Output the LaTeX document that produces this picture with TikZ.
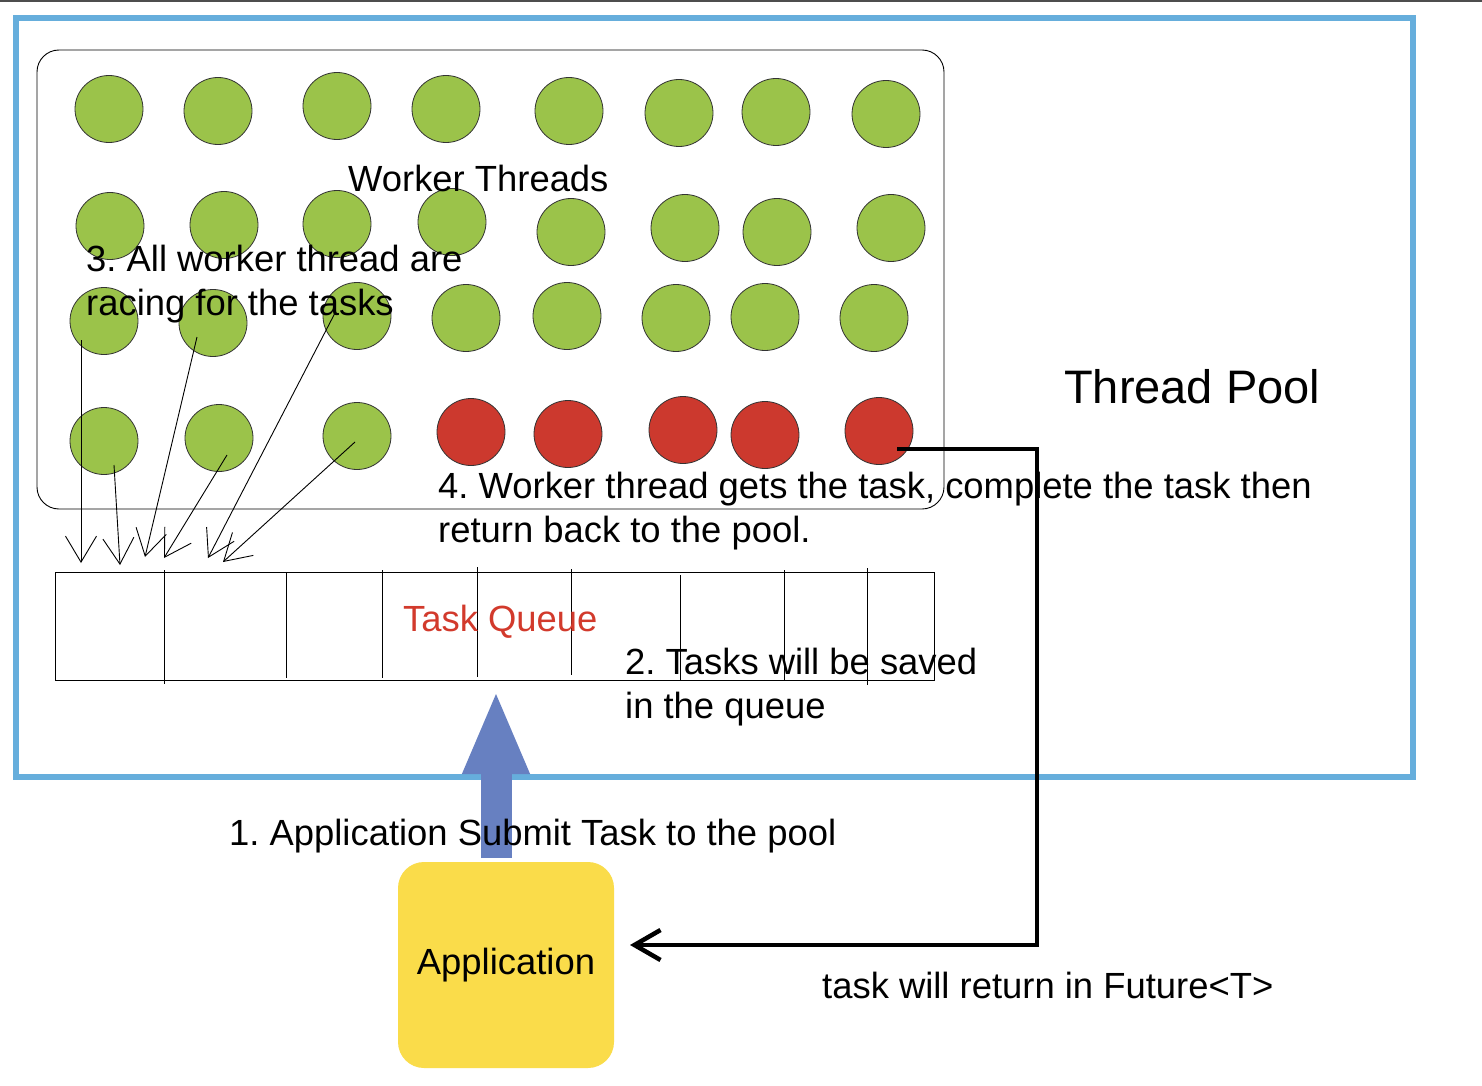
\documentclass[tikz,border=0pt]{standalone}
\usepackage{fontspec}
\setmainfont{Liberation Sans}
\usetikzlibrary{arrows.meta,shapes.geometric}
\definecolor{thgreen}{RGB}{155,195,74}
\definecolor{thred}{RGB}{204,57,46}
\definecolor{poolblue}{RGB}{102,174,220}
\definecolor{appyellow}{RGB}{250,220,74}
\definecolor{subblue}{RGB}{103,128,193}
\definecolor{queuered}{RGB}{210,58,44}
\definecolor{topgray}{RGB}{77,77,77}
\frenchspacing
\tikzset{
  thread/.style={ellipse, draw=black!80, line width=0.8pt, minimum width=68pt, minimum height=67pt, inner sep=0pt},
  txt/.style={font=\fontsize{36.4}{43}\selectfont, anchor=base west, inner sep=0pt},
  grab/.style={line width=0.9pt, -{Straight Barb[length=26pt,width=31pt]}},
  divider/.style={line width=0.9pt},
  ret/.style={line width=4.5pt, -{Straight Barb[length=26pt,width=30pt]}},
  submit/.style={line width=31pt, subblue, -{Triangle[length=84pt,width=61pt]}}
}
\begin{document}
\begin{tikzpicture}[x=1pt,y=-1pt]
\useasboundingbox (0,0) rectangle (1482,1086);
\fill[white] (0,0) rectangle (1482,1086);
\fill[topgray] (0,0) rectangle (1482,2);

% thread pool border
\node[draw=poolblue, line width=6pt, minimum width=1397pt, minimum height=759pt, inner sep=0pt, outer sep=0pt, anchor=north west] (pool) at (16,18) {};

% worker thread container
\node[draw=black, line width=0.9pt, rounded corners=22pt, minimum width=907pt, minimum height=459pt, inner sep=0pt, outer sep=0pt, anchor=north west] (workers) at (37,50) {};

% threads
\foreach \n/\x/\y/\c in {
  g11/109/109/thgreen, g12/218/111/thgreen, g13/337/106/thgreen, g14/446/109/thgreen,
  g15/569/111/thgreen, g16/679/113/thgreen, g17/776/112/thgreen, g18/886/114/thgreen,
  g21/110/226/thgreen, g22/224/225/thgreen, g23/337/224/thgreen, g24/452/222/thgreen,
  g25/571/232/thgreen, g26/685/228/thgreen, g27/777/232/thgreen, g28/891/228/thgreen,
  g31/104/321/thgreen, g32/213/323/thgreen, g33/357/316/thgreen, g34/466/318/thgreen,
  g35/567/316/thgreen, g36/676/318/thgreen, g37/765/317/thgreen, g38/874/318/thgreen,
  g41/104/441/thgreen, g42/219/438/thgreen, g43/357/436/thgreen, r44/471/432/thred,
  r45/568/434/thred, r46/683/430/thred, r47/765/435/thred, r48/879/431/thred}
  \node[thread, fill=\c] (\n) at (\x,\y) {};

% task queue
\node[draw=black, line width=0.9pt, minimum width=879pt, minimum height=108pt, inner sep=0pt, outer sep=0pt, anchor=north west] (queue) at (55,572) {};
\draw[divider] (164,570) -- (164,684);
\draw[divider] (286,572) -- (286,678);
\draw[divider] (382,570) -- (382,678);
\draw[divider] (477,567) -- (477,677);
\draw[divider] (571,569) -- (571,675);
\draw[divider] (680,575) -- (680,680);
\draw[divider] (784,570) -- (784,680);
\draw[divider] (867,568) -- (867,685);

% racing arrows
\coordinate (s1) at (81,340);  \coordinate (t1) at (81,563);
\coordinate (s2) at (114,465); \coordinate (t2) at (120,565);
\coordinate (s3) at (197,337); \coordinate (t3) at (145,557);
\coordinate (s4) at (227,455); \coordinate (t4) at (164,558);
\coordinate (s5) at (335,313); \coordinate (t5) at (208,558);
\coordinate (s6) at (355,442); \coordinate (t6) at (223,562);
\foreach \i in {1,...,6} \draw[grab] (s\i) -- (t\i);

% application
\node[fill=appyellow, rounded corners=26pt, minimum width=216pt, minimum height=206pt, inner sep=0pt, font=\fontsize{36.4}{43}\selectfont] (app) at (506,965) {Application};

% submit arrow
\coordinate (subBase) at (496,858);
\coordinate (subTip) at (496,690);
\draw[submit] (subBase) -- (subTip);

% return arrow
\coordinate (retStart) at (897,449);
\coordinate (retCorner) at (1037,449);
\coordinate (retEnd) at (630,945);
\draw[ret] (retStart) -- (retCorner) |- (retEnd);

% texts
\node[txt] (lblWorkers) at (348,192) {Worker Threads};
\node[txt, font=\fontsize{47}{56}\selectfont] (lblPool) at (1064,403) {Thread Pool};
\node[txt] (lblRace1) at (86,271) {3. All worker thread are};
\node[txt] (lblRace2) at (86,315) {racing for the tasks};
\node[txt] (lblGet1) at (438,498) {4. Worker thread gets the task, complete the task then};
\node[txt] (lblGet2) at (438,542) {return back to the pool.};
\node[txt, text=queuered] (lblQueue) at (403,631) {Task Queue};
\node[txt] (lblSaved1) at (625,674) {2. Tasks will be saved};
\node[txt] (lblSaved2) at (625,718) {in the queue};
\node[txt] (lblSubmit) at (229,845) {1. Application Submit Task to the pool};
\node[txt] (lblFuture) at (822,998) {task will return in Future<T>};
\end{tikzpicture}
\end{document}
